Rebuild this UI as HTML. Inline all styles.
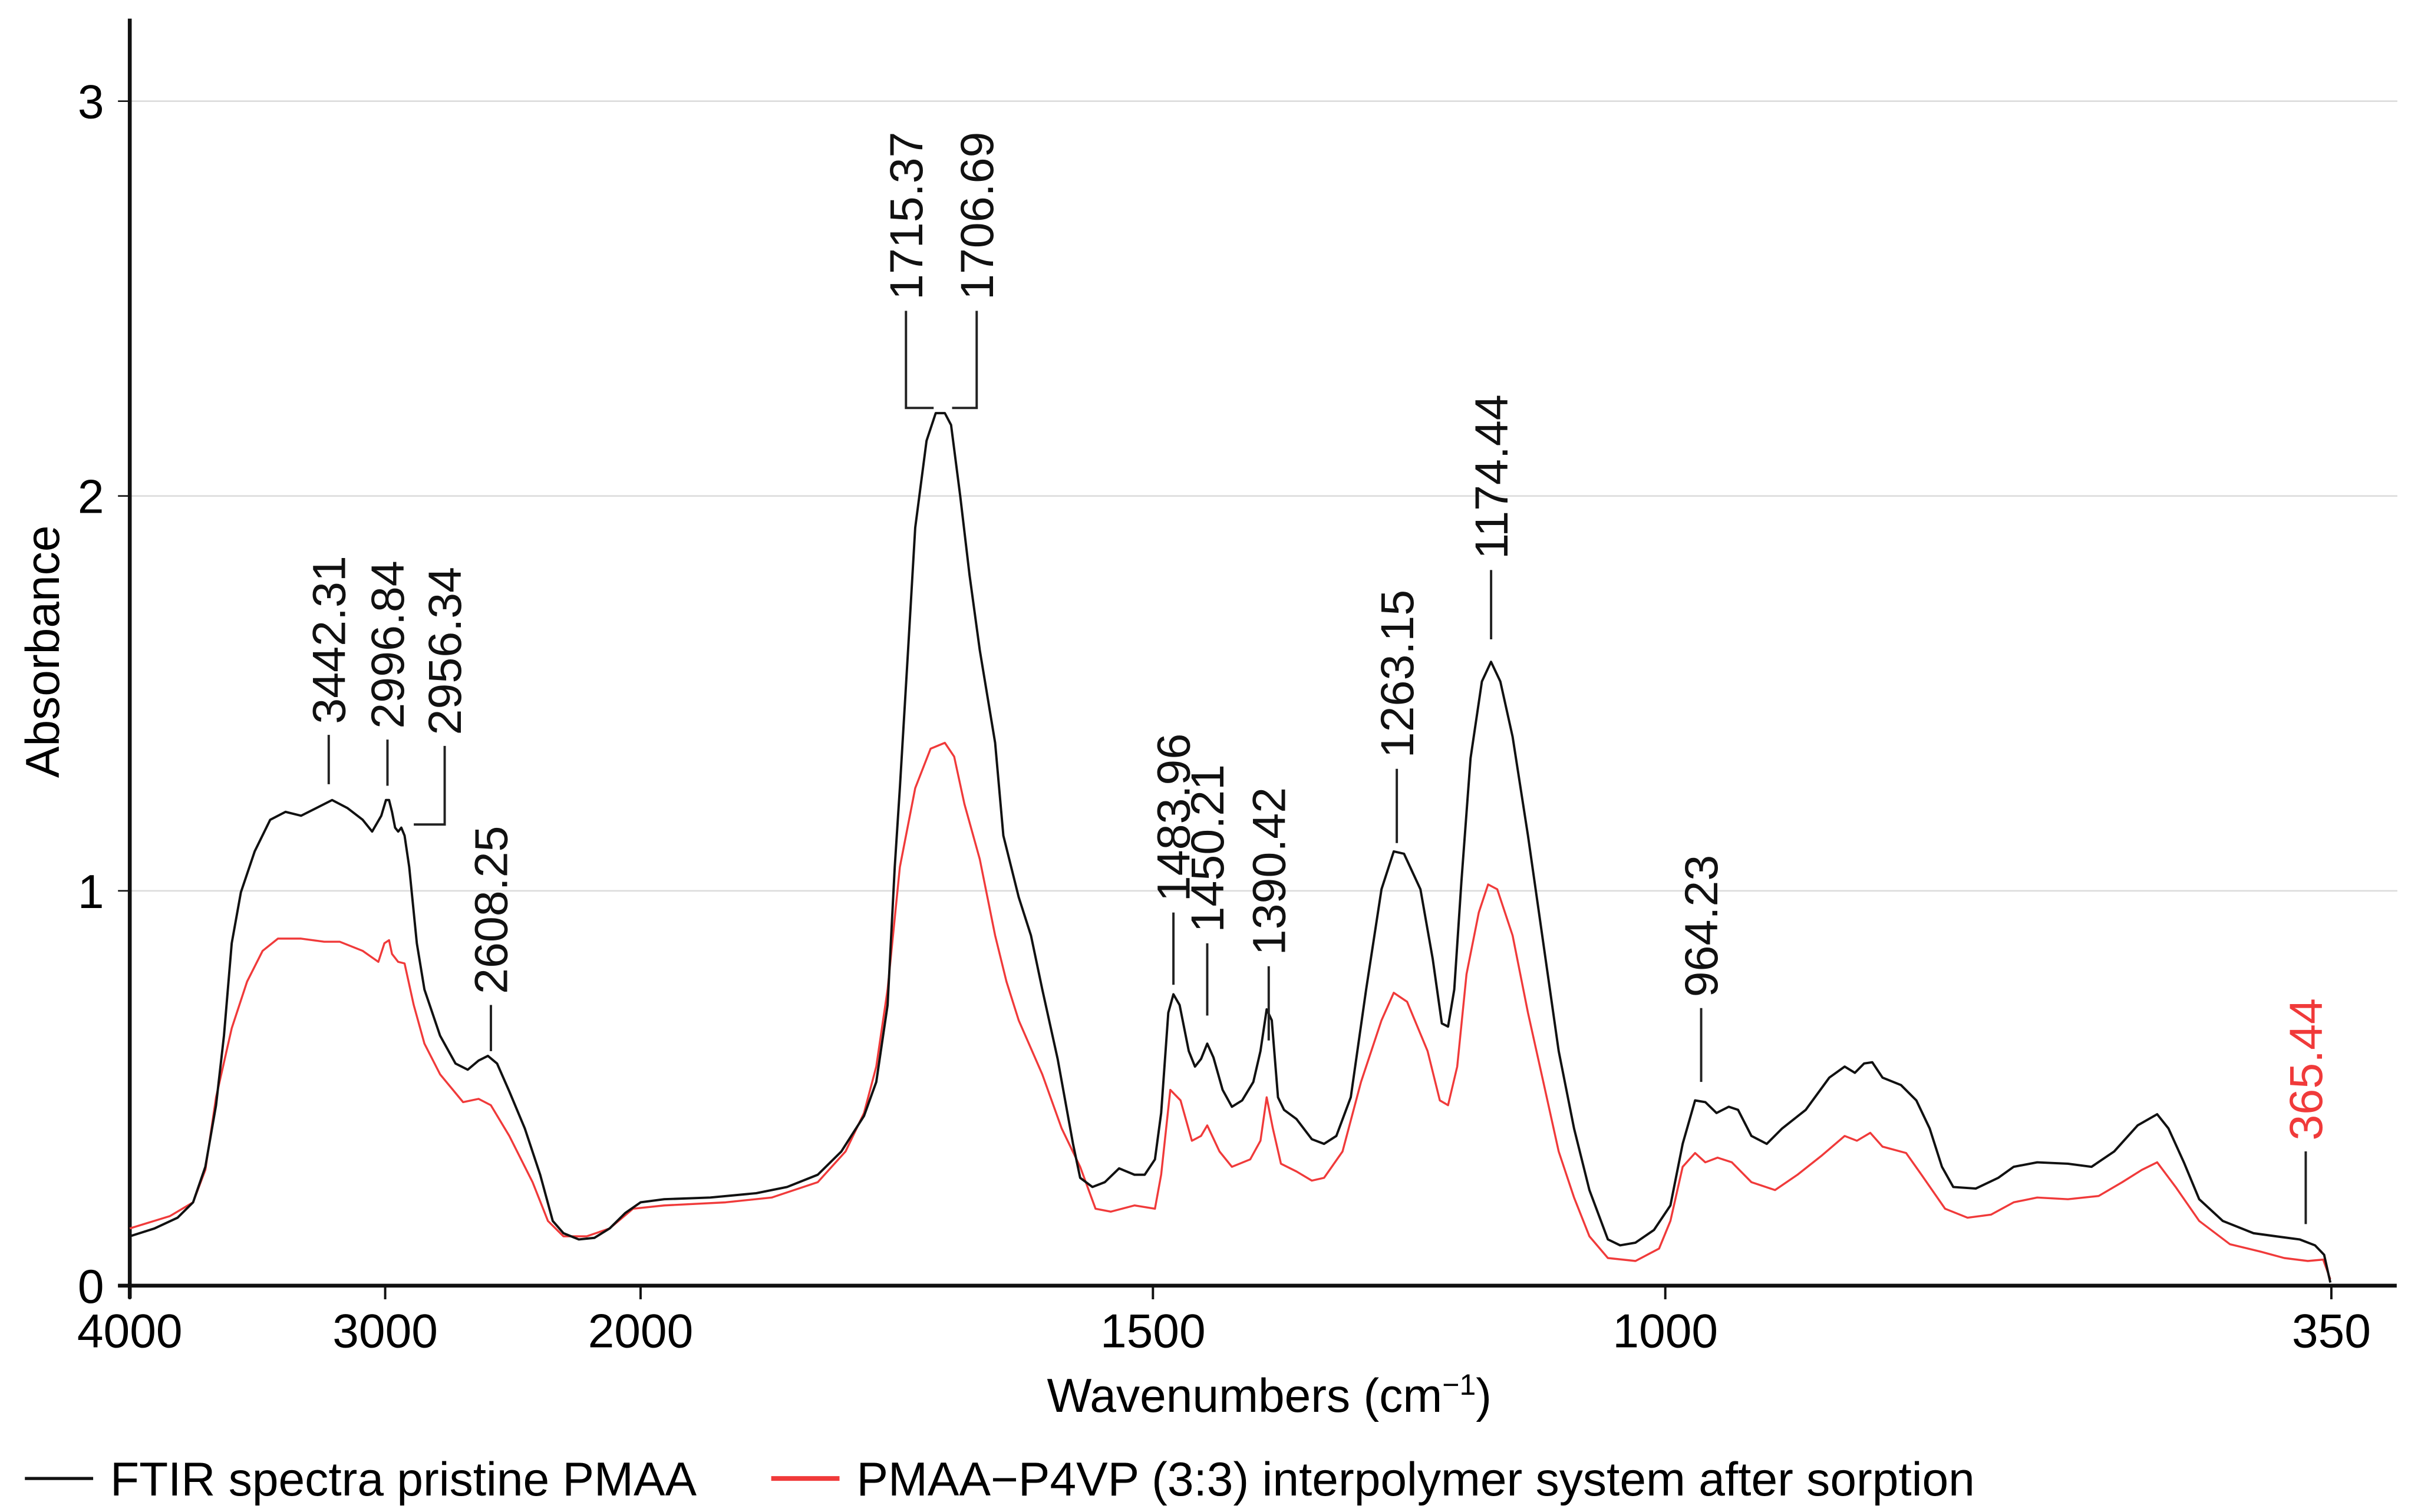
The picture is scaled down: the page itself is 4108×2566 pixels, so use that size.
<!DOCTYPE html>
<html><head><meta charset="utf-8"><style>
html,body{margin:0;padding:0;background:#fff;}
svg{display:block;font-family:"Liberation Sans",Arial,sans-serif;}
</style></head><body>
<svg id="chart" width="4108" height="2566" viewBox="0 0 1560.2 974.6" xmlns="http://www.w3.org/2000/svg">
<g id="grid"></g>
<g id="axes"></g>
<g id="series"></g>
<g id="annots"></g>
<text x="0" y="0" transform="translate(38,420) rotate(-90)" text-anchor="middle" font-size="30.5">Absorbance</text>
<text x="818" y="910" text-anchor="middle" font-size="30.5">Wavenumbers (cm<tspan dy="-11" font-size="19">−1</tspan><tspan dy="11">)</tspan></text>
<g>
 <line x1="16" y1="953" x2="60" y2="953" stroke="#111" stroke-width="2"/>
 <text x="71" y="964" font-size="30.5">FTIR spectra pristine PMAA</text>
 <line x1="497" y1="953" x2="541" y2="953" stroke="#f03a3a" stroke-width="3"/>
 <text x="552" y="964" font-size="30.5">PMAA−P4VP (3:3) interpolymer system after sorption</text>
</g>
</svg>
<script>
const yTicks=[0,1,2,3];
const xTicks=[4000,3000,2000,1500,1000,350];
const pmaaWn=[4000,3903,3813,3752,3704,3662,3631,3601,3565,3511,3450,3390,3329,3269,3208,3148,3088,3051,3015,2997,2985,2973,2961,2949,2937,2924,2906,2876,2846,2785,2725,2677,2634,2598,2562,2514,2453,2393,2344,2302,2242,2181,2121,2060,2000,1977,1932,1887,1857,1827,1804,1782,1770,1759,1752,1747,1739,1732,1721,1712,1703,1697,1688,1679,1669,1654,1646,1631,1619,1608,1593,1578,1571,1559,1547,1533,1518,1508,1498,1492,1485,1480,1474,1465,1459,1453,1447,1441,1432,1423,1413,1402,1395,1389,1384,1378,1372,1360,1345,1333,1321,1307,1292,1277,1265,1255,1239,1227,1218,1212,1206,1199,1190,1179,1170,1161,1149,1134,1119,1104,1089,1074,1056,1044,1029,1011,995,983,971,961,950,938,929,916,901,886,863,840,825,815,806,798,788,770,755,742,730,719,697,675,660,637,607,584,562,539,520,509,494,479,456,426,404,381,366,357,351];
const pmaaAbs=[.125,.145,.172,.211,.301,.457,.633,.867,.996,1.10,1.18,1.20,1.19,1.21,1.23,1.21,1.18,1.15,1.19,1.23,1.23,1.20,1.16,1.15,1.16,1.14,1.06,.867,.75,.633,.5625,.547,.57,.582,.5625,.492,.398,.281,.164,.133,.117,.121,.145,.184,.211,.219,.223,.234,.25,.281,.34,.43,.516,.711,1.06,1.26,1.61,1.92,2.14,2.21,2.21,2.18,2.0,1.80,1.61,1.375,1.14,.984,.887,.75,.574,.359,.273,.25,.262,.297,.281,.281,.32,.4375,.691,.738,.711,.594,.555,.574,.613,.578,.496,.453,.469,.516,.594,.70,.672,.477,.445,.422,.371,.359,.379,.477,.75,1.004,1.10,1.094,1.004,.828,.664,.656,.75,1.023,1.336,1.53,1.58,1.53,1.39,1.14,.867,.594,.398,.242,.117,.102,.109,.141,.203,.359,.469,.465,.4375,.453,.445,.379,.359,.398,.445,.527,.555,.539,.5625,.566,.527,.508,.469,.398,.301,.25,.246,.273,.301,.3125,.309,.301,.34,.406,.434,.398,.3125,.219,.164,.133,.125,.117,.102,.078,.008];
const sorbWn=[4000,3843,3752,3704,3662,3601,3541,3480,3420,3329,3239,3178,3088,3027,3003,2985,2973,2949,2924,2888,2846,2785,2695,2634,2586,2514,2423,2363,2302,2211,2121,2030,1977,1917,1872,1827,1800,1782,1770,1759,1747,1732,1717,1703,1694,1684,1669,1654,1643,1631,1608,1589,1571,1556,1541,1518,1498,1492,1483,1473,1462,1453,1447,1435,1423,1405,1395,1389,1383,1375,1360,1345,1333,1315,1297,1277,1265,1252,1232,1220,1212,1203,1194,1182,1173,1164,1149,1134,1119,1104,1089,1074,1056,1029,1006,995,983,971,961,949,935,916,893,871,848,825,813,800,788,765,750,727,705,682,660,637,607,577,554,535,520,502,479,449,419,396,373,358,351];
const sorbAbs=[.145,.176,.211,.293,.477,.652,.77,.848,.879,.879,.871,.871,.848,.82,.867,.875,.84,.82,.816,.711,.613,.535,.465,.473,.457,.379,.262,.164,.125,.125,.145,.195,.203,.211,.223,.262,.34,.4375,.555,.75,1.06,1.26,1.36,1.375,1.34,1.22,1.08,.887,.77,.672,.535,.398,.301,.195,.1875,.203,.195,.281,.496,.469,.367,.379,.406,.34,.301,.32,.367,.477,.398,.309,.289,.266,.273,.34,.516,.672,.742,.719,.594,.469,.457,.555,.789,.945,1.016,1.004,.887,.691,.516,.34,.223,.125,.07,.0625,.094,.164,.301,.336,.3125,.324,.3125,.262,.242,.281,.328,.379,.367,.387,.352,.336,.281,.195,.172,.18,.211,.223,.219,.227,.262,.293,.3125,.25,.164,.105,.086,.07,.0625,.066,.016];
const annLabels=["3442.31","2996.84","2956.34","2608.25","1715.37","1706.69","1483.96","1450.21","1390.42","1263.15","1174.44","964.23","365.44"];
const annPos=[3221,2991,2767,2586,1741,1672,1480,1447,1387,1262,1170,965,375];
const annEnd=[null,null,2888,null,1714,1696,null,null,null,null,null,null,null];
const annLow=[1.27,1.266,1.168,.594,2.223,2.223,.762,.684,.621,1.121,1.637,.516,.156];
const annHigh=[1.395,1.383,1.367,.711,2.469,2.469,.945,.867,.809,1.309,1.8125,.703,.34];
const annRed=[false,false,false,false,false,false,false,false,false,false,false,false,true];

const NS="http://www.w3.org/2000/svg";
function X(w){return w>=2000?83.6+(4000-w)*0.1646:412.8+(2000-w)*0.6604;}
function Y(a){return 828.7-a*254.5;}
function mk(tag,attrs,parent){const e=document.createElementNS(NS,tag);for(const k in attrs)e.setAttribute(k,attrs[k]);parent.appendChild(e);return e;}
const grid=document.getElementById('grid'),axes=document.getElementById('axes'),series=document.getElementById('series'),annots=document.getElementById('annots');
yTicks.forEach(t=>{
 if(t>0){const g=mk('line',{x1:83.6,x2:1545,y1:Y(t),y2:Y(t),stroke:'#dcdcdc','stroke-width':1},grid);
 
 }
 const tk=mk('line',{x1:76,x2:83.6,y1:Y(t),y2:Y(t),stroke:'#111','stroke-width':1},axes);
 
 
 const tx=mk('text',{x:67,y:Y(t)+11,'text-anchor':'end','font-size':30.5},axes);
 tx.textContent=t;
 
 
});
const ya=mk('line',{x1:83.6,x2:83.6,y1:12,y2:837,stroke:'#111','stroke-width':2.5},axes);


const xa=mk('line',{x1:76,x2:1544.6,y1:828.7,y2:828.7,stroke:'#111','stroke-width':2.5},axes);


xTicks.forEach(t=>{
 const tk=mk('line',{x1:X(t),x2:X(t),y1:828.7,y2:837.5,stroke:'#111','stroke-width':1.5},axes);
 
 
 const tx=mk('text',{x:X(t),y:868.5,'text-anchor':'middle','font-size':30.5},axes);
 tx.textContent=t;
 
 
});
function path(wn,ab,color,w,name){
 let d='';wn.forEach((v,i)=>{d+=(i?'L':'M')+X(v).toFixed(1)+','+Y(ab[i]).toFixed(1);});
 const p=mk('path',{d:d,fill:'none',stroke:color,'stroke-width':w,'stroke-linejoin':'round'},series);
 
 
}
path(sorbWn,sorbAbs,'#f03a3a',1.3,'series-interpolymer-line');
path(pmaaWn,pmaaAbs,'#111',1.5,'series-pmaa-line');
annLabels.forEach((lab,i)=>{
 const col=annRed[i]?'#f03a3a':'#111';
 const x=X(annPos[i]);
 let d='M'+x+','+Y(annHigh[i])+'L'+x+','+Y(annLow[i]);
 if(annEnd[i]!==null)d+='L'+X(annEnd[i])+','+Y(annLow[i]);
 const l=mk('path',{d:d,fill:'none',stroke:'#222','stroke-width':1.5},annots);
 
 
 const tx=mk('text',{x:0,y:0,transform:'translate('+(x+10.5)+','+(Y(annHigh[i])-7)+') rotate(-90)','font-size':30,fill:col},annots);
 tx.textContent=lab;
 
 
});
</script>
</body></html>
